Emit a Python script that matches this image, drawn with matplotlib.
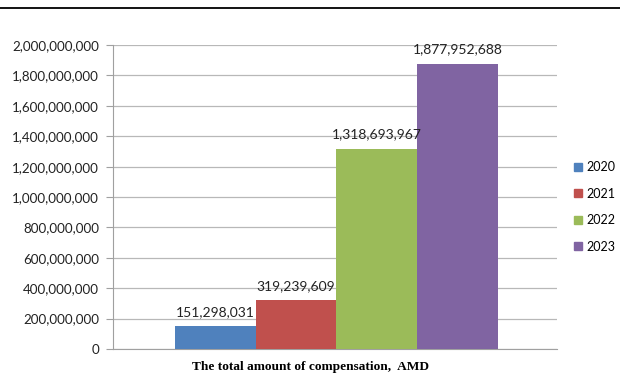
import matplotlib.pyplot as plt
import matplotlib.patches as mpatches
from matplotlib.lines import Line2D
from matplotlib.ticker import FuncFormatter

years = ['2020', '2021', '2022', '2023']
amounts = [151298031, 319239609, 1318693967, 1877952688]
colors = ['#4F81BD', '#C0504D', '#9BBB59', '#8064A2']

plt.rcParams['font.family'] = ['Lato', 'DejaVu Sans']

fig = plt.figure(figsize=(6.2, 3.78), dpi=100)
ax = fig.add_axes([0.182, 0.0767, 0.716, 0.804])

x = range(len(years))
bars = ax.bar(x, amounts, width=1.0, color=colors, zorder=3)

for b, v in zip(bars, amounts):
    ax.text(b.get_x() + b.get_width() / 2, v + 55000000, f'{v:,}',
            ha='center', va='bottom', fontsize=10, color='#222222')

ax.set_ylim(0, 2000000000)
ax.set_yticks(range(0, 2000000001, 200000000))
ax.yaxis.set_major_formatter(FuncFormatter(lambda v, p: f'{int(v):,}'))
ax.set_xlim(-1.268, 4.23)
ax.set_xticks([])
ax.grid(axis='y', color='#B8B8B8', linewidth=0.9, zorder=0)

for s in ['top', 'right']:
    ax.spines[s].set_visible(False)
ax.spines['left'].set_color('#A0A0A0')
ax.spines['bottom'].set_color('#A0A0A0')
ax.tick_params(axis='y', length=5, color='#A0A0A0', labelsize=9.6, pad=5, labelcolor='#222222')

handles = [mpatches.Patch(color=c, label=y) for c, y in zip(colors, years)]
fig.legend(handles=handles, loc='upper left', bbox_to_anchor=(0.918, 0.586),
           frameon=False, fontsize=9.0, handlelength=0.6, handleheight=0.6,
           handletextpad=0.4, labelspacing=1.15, borderaxespad=0)

fig.text(0.5, 0.028, 'The total amount of compensation,  AMD', ha='center',
         va='center', fontsize=9.6, fontweight='bold', family='Liberation Serif')

fig.add_artist(Line2D([0, 1], [0.979, 0.979], color='black', linewidth=1.3))

fig.savefig('out.png', dpi=100)
